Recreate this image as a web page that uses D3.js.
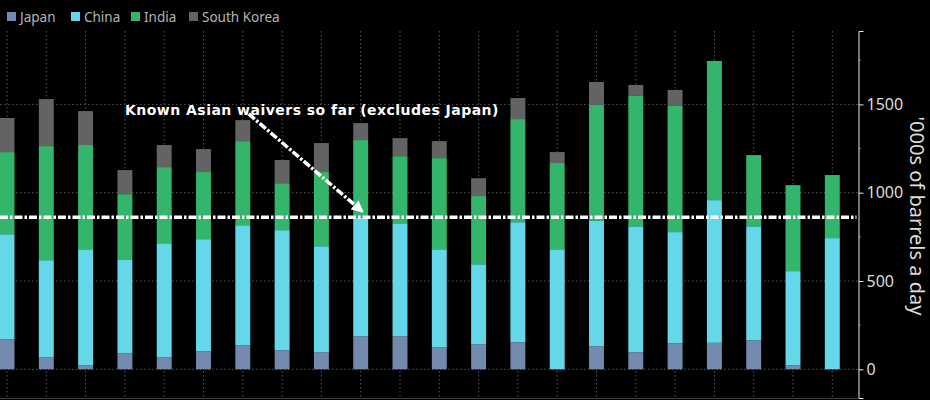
<!DOCTYPE html>
<html>
<head>
<meta charset="utf-8">
<script src="https://cdn.jsdelivr.net/npm/d3@7"></script>
<style>
html, body { margin: 0; padding: 0; background: #000; overflow: hidden; }
text { font-family: "Noto Sans", "DejaVu Sans", sans-serif; }
</style>
</head>
<body>
<svg id="chart" width="930" height="400"></svg>
<script>
let periods = d3.range(22);
let seriesNames = ["Japan", "China", "India", "South Korea"];
let seriesColors = ["#7389ae", "#64d8e8", "#34b56c", "#636363"];

let japan = [170,68,23,90,68,102,136,108,97,187,187,125,142,153,0,130,96,147,150,164,23,0];
let china = [595,550,657,533,646,635,680,680,600,673,640,555,453,680,680,710,714,630,808,646,533,743];
let india = [465,646,590,369,431,380,476,266,420,438,380,516,386,584,488,657,738,714,788,403,487,357];
let korea = [193,266,192,136,125,130,119,131,164,96,102,96,101,119,62,130,62,91,0,0,0,0];

let majorTicks = [0, 500, 1000, 1500];
let minorTicks = [250, 750, 1250, 1750];
let waiverLevel = 861;

let svg = d3.select("#chart");

let rows = periods.map((p, i) => ({
    period: p,
    Japan: japan[i],
    China: china[i],
    India: india[i],
    "South Korea": korea[i]
}));

let x = d3.scaleBand()
    .domain(periods)
    .range([-12.65, 851.95])
    .paddingInner(0.62)
    .paddingOuter(0.31);

let y = d3.scaleLinear().domain([0, 1500]).range([369.3, 104.4]);
let plotTop = 31, plotBottom = 398, axisX = 858.5;

let colour = d3.scaleOrdinal().domain(seriesNames).range(seriesColors);
let center = p => x(p) + x.bandwidth() / 2;

// gridlines go under the bars
svg.append("g").selectAll("line")
    .data(periods)
    .enter().append("line")
    .attr("x1", center).attr("x2", center)
    .attr("y1", plotTop).attr("y2", plotBottom)
    .attr("stroke", "#555")
    .attr("stroke-dasharray", "1.5 2.5");

svg.append("g").selectAll("line")
    .data(majorTicks)
    .enter().append("line")
    .attr("x1", 0).attr("x2", axisX)
    .attr("y1", d => y(d)).attr("y2", d => y(d))
    .attr("stroke", "#555")
    .attr("stroke-dasharray", "1.5 2.5");

svg.append("line")
    .attr("x1", 0).attr("x2", axisX)
    .attr("y1", plotBottom + 0.5).attr("y2", plotBottom + 0.5)
    .attr("stroke", "#3a3a3a");

let stacked = d3.stack().keys(seriesNames)(rows);

svg.append("g").selectAll("g")
    .data(stacked)
    .enter().append("g")
    .attr("fill", d => colour(d.key))
    .selectAll("rect")
    .data(d => d)
    .enter().append("rect")
    .attr("x", d => x(d.data.period))
    .attr("width", x.bandwidth())
    .attr("y", d => y(d[1]))
    .attr("height", d => y(d[0]) - y(d[1]));

// right axis, long ticks with labels and short ones without
let axisScale = y.copy().domain([y.invert(plotBottom), y.invert(plotTop)]).range([plotBottom, plotTop]);

let axisG = svg.append("g")
    .attr("transform", `translate(${axisX},0)`)
    .call(d3.axisRight(axisScale).tickValues(majorTicks).tickSize(5).tickPadding(3).tickFormat(d3.format("d")));
axisG.select(".domain").attr("stroke", "#e6e6e6");
axisG.selectAll("line").attr("stroke", "#e6e6e6");
axisG.selectAll("text")
    .attr("fill", "#dcdcdc")
    .style("font-size", "16px")
    .style("font-family", '"Noto Sans", sans-serif');

svg.append("g").selectAll("line")
    .data(minorTicks)
    .enter().append("line")
    .attr("x1", axisX).attr("x2", axisX + 2)
    .attr("y1", d => y(d)).attr("y2", d => y(d))
    .attr("stroke", "#aaa");

svg.append("text")
    .attr("transform", `translate(910,216) rotate(90)`)
    .attr("text-anchor", "middle")
    .attr("fill", "#dcdcdc")
    .style("font-size", "20px")
    .text("'000s of barrels a day");

// waiver line and annotation
svg.append("line")
    .attr("x1", 0).attr("x2", axisX - 2)
    .attr("y1", y(waiverLevel)).attr("y2", y(waiverLevel))
    .attr("stroke", "#fff")
    .attr("stroke-width", 3.5)
    .attr("stroke-dasharray", "8 2 2.5 2");

svg.append("defs").append("marker")
    .attr("id", "head")
    .attr("viewBox", "0 0 10 10")
    .attr("refX", 8).attr("refY", 5)
    .attr("markerUnits", "userSpaceOnUse")
    .attr("markerWidth", 12).attr("markerHeight", 12)
    .attr("orient", "auto")
    .append("path")
    .attr("d", "M0,0L10,5L0,10z")
    .attr("fill", "#fff");

let arrowX = d3.scaleLinear().domain([0, 21]).range([center(0), center(21)]);
let arrowFrom = [6.15, 1446];
let arrowTo = [9.03, 896];

svg.append("line")
    .attr("x1", arrowX(arrowFrom[0])).attr("y1", y(arrowFrom[1]))
    .attr("x2", arrowX(arrowTo[0])).attr("y2", y(arrowTo[1]))
    .attr("stroke", "#fff")
    .attr("stroke-width", 3.5)
    .attr("stroke-dasharray", "8 2 2.5 2")
    .attr("marker-end", "url(#head)");

svg.append("text")
    .attr("x", 125).attr("y", 115)
    .attr("fill", "#fff")
    .style("font-family", '"DejaVu Sans", sans-serif')
    .style("font-weight", "bold")
    .style("font-size", "14px")
    .style("letter-spacing", "0.47px")
    .text("Known Asian waivers so far (excludes Japan)");

// legend
let legendX = [7, 71, 131, 189];
let legend = svg.append("g").selectAll("g")
    .data(seriesNames)
    .enter().append("g")
    .attr("transform", (d, i) => `translate(${legendX[i]},12)`);

legend.append("rect")
    .attr("width", 9).attr("height", 9)
    .attr("fill", d => colour(d));

legend.append("text")
    .attr("x", 13).attr("y", 10)
    .attr("fill", "#b4b4b4")
    .style("font-size", "13.5px")
    .text(d => d);
</script>
</body>
</html>
